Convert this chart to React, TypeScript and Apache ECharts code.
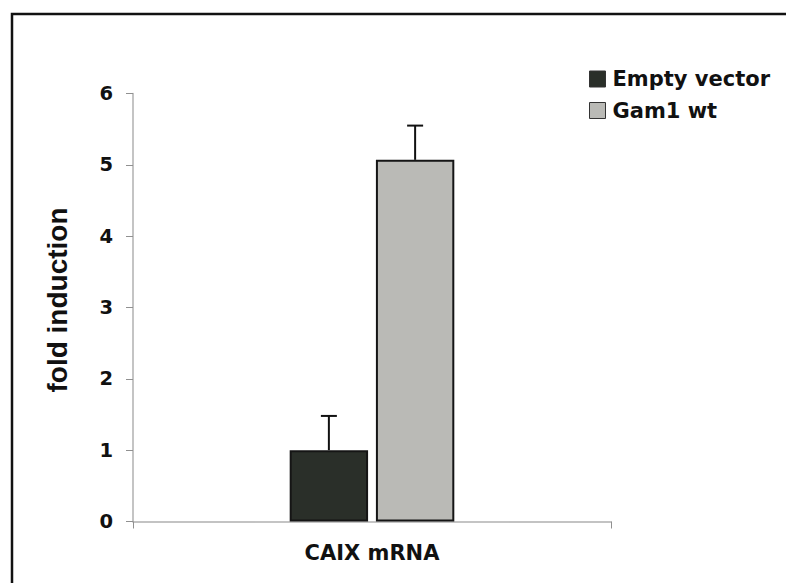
import React, { useEffect, useRef } from "react";
import * as echarts from "echarts";

const categories = ["CAIX mRNA"];
const seriesNames = ["Empty vector", "Gam1 wt"];
const emptyVector = [1.0];
const gam1wt = [5.07];
const emptyVectorErr = [0.48];
const gam1wtErr = [0.48];
const yTicks = [0, 1, 2, 3, 4, 5, 6];

const BAR_W = 0.164;
const BAR_GAP = 0.1;

export default function App() {
  const ref = useRef<HTMLDivElement>(null);
  useEffect(() => {
    if (!ref.current) return;
    const chart = echarts.init(ref.current, null, { renderer: "svg" });
    const errData: any[] = [];
    categories.forEach((_, i) => {
      errData.push([i, emptyVector[i], emptyVectorErr[i], 0]);
      errData.push([i, gam1wt[i], gam1wtErr[i], 1]);
    });
    const option: any = {
      animation: false,
      backgroundColor: "#ffffff",
      grid: { left: 133, right: 175, top: 93.5, bottom: 61.5 },
      legend: {
        orient: "vertical",
        left: 589,
        top: 68.5,
        padding: 0,
        icon: "rect",
        itemWidth: 16,
        itemHeight: 16,
        itemGap: 10.5,
        data: seriesNames,
        itemStyle: { borderWidth: 1, borderColor: "#333" },
        textStyle: {
          fontFamily: "DejaVu Sans",
          fontWeight: "bold",
          fontSize: 21,
          color: "#111",
          padding: [0, 0, 0, 2],
        },
      },
      graphic: [
        {
          type: "rect",
          shape: { x: 12, y: 14, width: 800, height: 600 },
          style: { fill: "none", stroke: "#111", lineWidth: 2.5 },
          silent: true,
        },
        {
          type: "text",
          x: 57,
          y: 300,
          rotation: Math.PI / 2,
          style: {
            text: "fold induction",
            font: "bold 28px 'Liberation Sans', Arial, sans-serif",
            fill: "#111",
            align: "center",
            verticalAlign: "middle",
          },
        },
      ],
      xAxis: {
        type: "category",
        data: categories,
        axisLine: { lineStyle: { color: "#b0b0b0", width: 1.5 } },
        axisTick: { show: true, length: 7, lineStyle: { color: "#909090" } },
        axisLabel: {
          margin: 21,
          fontFamily: "DejaVu Sans",
          fontWeight: "bold",
          fontSize: 21,
          color: "#111",
        },
      },
      yAxis: {
        type: "value",
        min: yTicks[0],
        max: yTicks[yTicks.length - 1],
        interval: 1,
        splitLine: { show: false },
        axisLine: { show: true, lineStyle: { color: "#b0b0b0", width: 1.5 } },
        axisTick: { show: true, length: 7, lineStyle: { color: "#909090" } },
        axisLabel: {
          margin: 20,
          fontFamily: "DejaVu Sans",
          fontWeight: "bold",
          fontSize: 19.5,
          color: "#111",
        },
      },
      series: [
        {
          name: seriesNames[0],
          type: "bar",
          data: emptyVector,
          barWidth: BAR_W * 100 + "%",
          barGap: BAR_GAP * 100 + "%",
          itemStyle: { color: "#2a2f29", borderColor: "#151515", borderWidth: 2 },
        },
        {
          name: seriesNames[1],
          type: "bar",
          data: gam1wt,
          barWidth: BAR_W * 100 + "%",
          barGap: BAR_GAP * 100 + "%",
          itemStyle: { color: "#babab6", borderColor: "#151515", borderWidth: 2 },
        },
        {
          type: "custom",
          data: errData,
          z: 10,
          renderItem: (params: any, api: any) => {
            const cat = api.value(0);
            const val = api.value(1);
            const err = api.value(2);
            const which = api.value(3);
            const band = api.size([1, 0])[0];
            const bw = band * BAR_W;
            const off = (bw + bw * BAR_GAP) / 2;
            const base = api.coord([cat, val]);
            const top = api.coord([cat, val + err]);
            const x = base[0] + (which === 0 ? -off : off);
            const style = { stroke: "#111", lineWidth: 2 };
            return {
              type: "group",
              children: [
                { type: "line", shape: { x1: x, y1: base[1], x2: x, y2: top[1] }, style },
                { type: "line", shape: { x1: x - 8, y1: top[1], x2: x + 8, y2: top[1] }, style },
              ],
            };
          },
        },
      ],
    };
    chart.setOption(option);
    return () => chart.dispose();
  }, []);
  return (
    <div style={{ position: "fixed", left: 0, top: 0 }}>
      <div ref={ref} style={{ width: 786, height: 583 }} />
    </div>
  );
}
